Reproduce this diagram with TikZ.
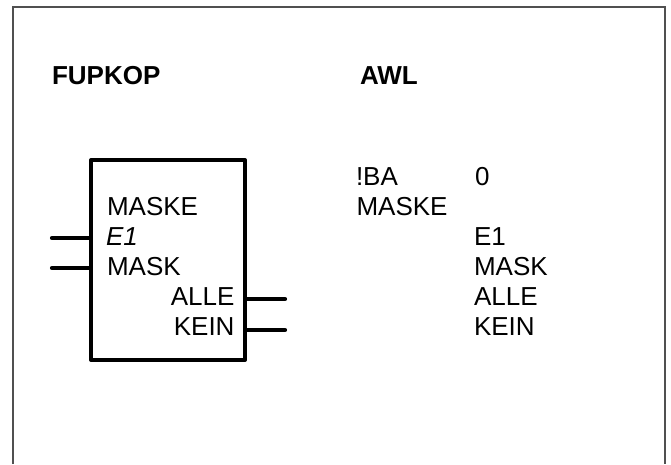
\documentclass[tikz,border=0pt]{standalone}
\usepackage{fontspec}
\setmainfont{Liberation Sans}
\definecolor{framegray}{HTML}{505050}
\tikzset{
  lbl/.style={inner sep=0pt, outer sep=0pt, font=\fontsize{26}{30}\selectfont},
  hdr/.style={inner sep=0pt, outer sep=0pt, font=\fontsize{26}{30}\selectfont\bfseries},
  blockbox/.style={draw=black, line width=4pt, line join=round, minimum width=154pt, minimum height=200pt, inner sep=0pt},
  wire/.style={line width=4.2pt, line cap=round},
  frameline/.style={draw=framegray, line width=1.4pt}
}
\begin{document}
\begin{tikzpicture}[x=1pt,y=-1pt]
\useasboundingbox (0,0) rectangle (671,464);
% outer frame (bottom edge outside the picture)
\draw[frameline] (13,464) -- (13,7) -- (665,7) -- (665,464);
% headers
\node[hdr, anchor=base west] (hfup) at (52,84) {FUPKOP};
\node[hdr, anchor=base west] (hawl) at (360,84) {AWL};
% block
\node[blockbox] (blk) at (168,260) {};
\node[lbl, anchor=base west] (tmaske) at (107,215) {MASKE};
\node[lbl, anchor=base west] (te1) at (106,245) {\itshape E1};
\node[lbl, anchor=base west] (tmask) at (107,275) {MASK};
\node[lbl, anchor=base east] (talle) at (234.5,305) {ALLE};
\node[lbl, anchor=base east] (tkein) at (234.5,335) {KEIN};
% connectors
\coordinate (in1) at (52,238);
\coordinate (in2) at (52,268);
\coordinate (out1) at (285,299);
\coordinate (out2) at (285,330);
\draw[wire] (in1) -- (in1 -| blk.west);
\draw[wire] (in2) -- (in2 -| blk.west);
\draw[wire] (out1 -| blk.east) -- (out1);
\draw[wire] (out2 -| blk.east) -- (out2);
% AWL listing
\node[lbl, anchor=base west] (aba) at (356,185) {!BA};
\node[lbl, anchor=base west] (azero) at (475,185) {0};
\node[lbl, anchor=base west] (amaske) at (356.5,215) {MASKE};
\node[lbl, anchor=base west] (ae1) at (474,245) {E1};
\node[lbl, anchor=base west] (amask) at (474,275) {MASK};
\node[lbl, anchor=base west] (aalle) at (474,305) {ALLE};
\node[lbl, anchor=base west] (akein) at (474,335) {KEIN};
\end{tikzpicture}
\end{document}
